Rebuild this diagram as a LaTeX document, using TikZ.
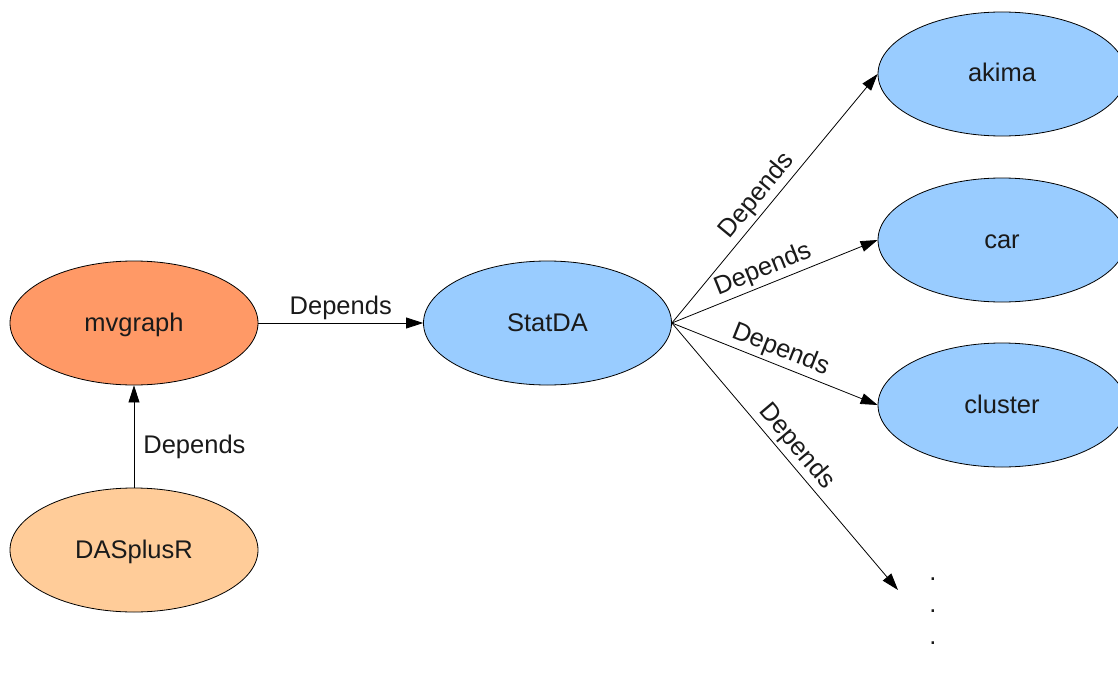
\documentclass[tikz,border=0pt]{standalone}
\usepackage{fontspec}
\setmainfont{Liberation Sans}
\usetikzlibrary{shapes.geometric,arrows.meta}
\definecolor{orangeA}{HTML}{FF9966}
\definecolor{orangeB}{HTML}{FFCC99}
\definecolor{blueA}{HTML}{99CCFF}
\definecolor{txt}{HTML}{1A1A1A}
\begin{document}
\begin{tikzpicture}[x=1pt,y=-1pt,
  pkg/.style={ellipse,draw=black,line width=0.8pt,minimum width=248pt,minimum height=124pt,inner sep=0pt,
    font=\fontsize{25.5}{30}\selectfont,text=txt,text height=22pt,text depth=6pt},
  dep/.style={draw=black,line width=0.8pt,-{Triangle[length=17pt,width=11pt]}},
  lbl/.style={font=\fontsize{25.5}{30}\selectfont,text=txt,inner sep=3pt}]
\useasboundingbox (0,0) rectangle (1118,674);
\node[pkg,fill=orangeA] (mvgraph) at (134,323) {mvgraph};
\node[pkg,fill=orangeB] (dasplusr) at (134,550) {DASplusR};
\node[pkg,fill=blueA] (statda) at (547.5,323) {StatDA};
\node[pkg,fill=blueA] (akima) at (1002,74) {akima};
\node[pkg,fill=blueA] (car) at (1002,240) {car};
\node[pkg,fill=blueA] (cluster) at (1002,405) {cluster};
\coordinate (more) at (898,590);
\node[font=\fontsize{25.5}{32}\selectfont,text=txt,align=center,inner sep=0pt] (dots) at (933,611) {.\\.\\.};
\draw[dep] (mvgraph.east) -- node[lbl,above] {Depends} (statda.west);
\draw[dep] (dasplusr.north) -- node[lbl,right,pos=0.4,xshift=6pt] {Depends} (mvgraph.south);
\draw[dep] (statda.east) -- node[lbl,sloped,above,pos=0.47] {Depends} (akima.west);
\draw[dep] (statda.east) -- node[lbl,sloped,above,pos=0.47] {Depends} (car.west);
\draw[dep] (statda.east) -- node[lbl,sloped,above,pos=0.5] {Depends} (cluster.west);
\draw[dep] (statda.east) -- node[lbl,sloped,above,pos=0.5] {Depends} (more);
\end{tikzpicture}
\end{document}
